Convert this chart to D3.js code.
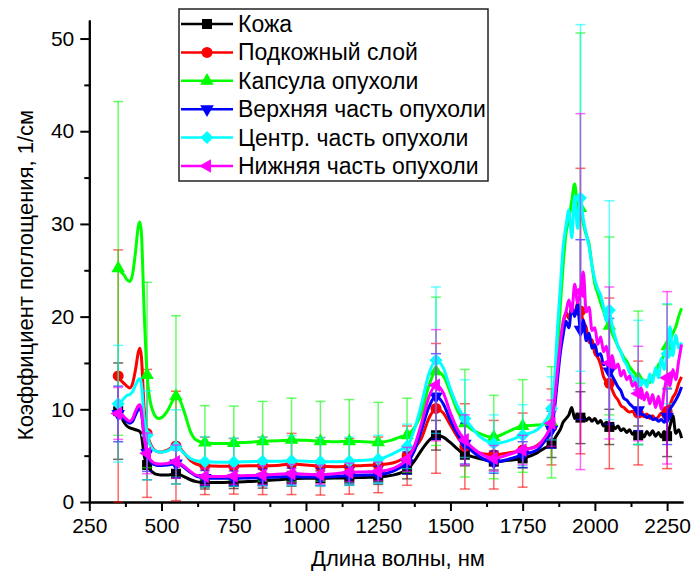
<!DOCTYPE html>
<html><head><meta charset="utf-8">
<script src="https://cdn.jsdelivr.net/npm/d3@7"></script>
<style>body{margin:0;background:#fff}text{font-family:"Liberation Sans",Arial,sans-serif;fill:#000}</style>
</head><body><svg id="c" width="695" height="574"></svg>
<script>
// ---- data ----
const wavelengths = [
 340,350,360,370,380,390,400,410,420,425,
 430,440,450,460,470,480,490,500,
 520,540,550,560,580,600,620,650,
 700,750,800,850,900,950,1000,1050,1100,1150,1200,1250,
 1300,1325,1350,1375,1400,1425,1450,1475,1500,1525,1550,1575,1600,1625,1650,
 1700,1750,1800,1825,1850,
 1860,1870,1880,1890,1900,1910,1920,1930,1940,1950,
 1960,1970,1980,1990,2000,2010,2020,2030,2040,2050,
 2060,2070,2080,2090,2100,2110,2120,2130,2140,2150,
 2160,2170,2180,2190,2200,2210,2220,2230,2240,2250,
 2260,2270,2280,2290,2300];
const markerWavelengths = [350,450,550,650,750,850,950,1050,1150,1250,1350,1450,1550,1650,1750,1850,1950,2050,2150,2250];
const seriesNames = ["Кожа","Подкожный слой","Капсула опухоли","Верхняя часть опухоли","Центр. часть опухоли","Нижняя часть опухоли"];
const xTickLabels = [250,500,750,1000,1250,1500,1750,2000,2250];
const xMinorTicks = [375,625,875,1125,1375,1625,1875,2125];
const yTickLabels = [0,10,20,30,40,50];
const yMinorTicks = [5,15,25,35,45];
const xTitle = "Длина волны, нм";
const yTitle = "Коэффициент поглощения, 1/см";

const kozha = [
 10.0,9.8,9.2,8.6,8.2,8.0,7.9,7.8,7.7,7.6,
 7.3,5.0,4.0,3.5,3.2,3.0,2.95,2.9,
 2.9,3.0,3.05,3.0,2.7,2.4,2.2,2.1,
 2.1,2.15,2.2,2.3,2.4,2.5,2.55,2.55,2.6,2.6,2.65,2.7,
 2.9,3.1,3.5,4.4,5.6,6.6,7.2,7.0,6.4,5.7,5.1,4.9,4.7,4.5,4.35,
 4.5,4.7,5.3,5.8,6.3,
 6.8,7.3,7.8,8.6,9.0,9.4,10.2,9.0,9.5,9.1,
 9.3,8.8,9.1,8.7,9.0,8.5,8.8,8.2,8.6,8.1,
 8.4,7.9,8.2,7.7,7.9,7.5,7.8,7.3,7.6,7.2,
 7.5,7.0,7.6,7.2,7.7,7.1,7.5,7.0,7.6,7.1,
 8.2,9.3,7.4,7.8,6.9];
const podkozhny = [
 13.9,13.6,13.1,12.8,12.5,12.3,12.8,14.3,16.2,16.6,
 15.8,10.0,7.4,6.4,5.8,5.5,5.4,5.4,
 5.6,5.95,6.05,5.9,5.2,4.5,4.1,3.9,
 3.85,3.85,3.9,3.9,3.95,4.1,4.0,3.85,3.8,3.85,3.95,4.0,
 4.2,4.5,5.0,5.8,6.9,9.0,10.1,9.6,8.3,7.0,6.0,5.6,5.3,5.15,5.1,
 5.3,5.6,6.1,6.8,8.1,
 10.5,14.0,17.5,19.0,20.5,19.8,21.0,20.2,21.5,20.6,
 19.5,18.8,17.2,17.5,16.0,15.6,14.8,13.5,13.0,12.8,
 12.1,11.4,11.0,10.4,10.2,9.9,9.7,9.8,9.5,9.6,
 9.4,9.2,9.5,9.0,9.3,8.9,9.2,9.6,9.1,9.8,
 10.5,11.3,11.8,12.8,13.5];
const kapsula = [
 25.3,25.2,24.8,24.5,24.0,23.8,24.6,27.0,29.8,30.2,
 29.2,20.5,13.7,11.0,9.8,9.2,9.0,9.1,
 9.8,11.0,11.4,11.2,9.6,7.6,6.7,6.4,
 6.3,6.35,6.45,6.55,6.6,6.7,6.65,6.55,6.5,6.55,6.5,6.45,
 6.7,7.0,7.2,8.0,9.6,12.5,14.1,13.6,11.8,9.8,8.5,7.8,7.4,7.1,7.0,
 7.6,8.2,8.3,8.4,8.6,
 11.0,16.0,21.0,25.5,29.0,30.5,32.5,34.3,32.0,31.7,
 30.0,28.8,27.8,25.5,23.5,22.5,21.5,20.6,19.6,19.0,
 18.2,17.5,16.8,16.2,15.6,15.2,14.6,14.2,13.8,13.4,
 13.3,13.0,13.1,12.9,13.6,13.9,14.8,15.2,16.0,16.8,
 17.5,18.2,18.9,20.0,20.9];
const verkhnyaya = [
 9.7,9.5,9.3,9.0,8.7,8.5,8.7,9.4,10.0,10.1,
 9.7,7.0,5.3,4.5,4.1,4.0,3.95,3.95,
 4.0,4.1,4.15,4.1,3.7,3.2,2.8,2.6,
 2.55,2.55,2.6,2.65,2.7,2.75,2.7,2.7,2.75,2.85,2.9,2.95,
 3.3,3.7,4.2,5.5,7.8,10.2,11.4,10.6,8.8,7.3,6.3,5.5,4.9,4.5,4.3,
 4.6,5.1,5.6,6.5,7.8,
 10.0,13.0,16.0,18.0,19.5,18.8,21.0,20.0,21.3,18.6,
 19.6,17.4,18.2,16.6,17.0,15.8,16.0,14.8,15.0,14.1,
 13.6,13.0,12.4,12.0,11.2,11.0,10.6,10.3,10.0,9.9,
 9.5,9.4,9.1,9.3,8.9,9.0,8.7,8.9,8.6,9.2,
 10.0,10.5,11.0,11.6,12.4];
const tsentr = [
 10.8,10.6,10.8,11.2,11.5,11.6,11.9,12.6,13.2,13.3,
 12.8,9.0,7.2,6.2,5.7,5.5,5.4,5.4,
 5.5,5.85,5.95,5.8,5.2,4.7,4.45,4.35,
 4.3,4.3,4.35,4.4,4.4,4.45,4.4,4.35,4.35,4.4,4.5,4.6,
 5.2,5.6,6.0,7.8,10.6,13.8,15.3,14.5,12.2,10.3,9.0,8.0,7.1,6.6,6.3,
 6.6,7.2,7.8,8.6,10.1,
 13.0,18.5,23.0,27.5,29.8,31.5,28.5,33.0,29.5,32.8,
 30.5,29.0,27.5,25.5,24.0,23.0,22.3,21.0,19.5,20.7,
 19.0,17.8,16.8,16.2,15.3,14.8,14.0,13.6,13.2,12.9,
 12.6,13.2,12.4,13.8,12.9,14.5,13.4,15.5,14.3,16.0,
 18.9,15.8,18.0,16.6,17.2];
const nizhnyaya = [
 9.4,9.55,9.5,9.2,8.9,8.7,9.0,9.8,10.4,10.5,
 10.0,7.0,5.25,4.6,4.3,4.15,4.1,4.1,
 4.15,4.3,4.35,4.25,3.8,3.3,2.9,2.75,
 2.75,2.8,2.85,2.9,3.0,3.05,3.0,2.95,3.05,3.2,3.25,3.3,
 3.6,4.0,4.6,6.0,8.5,11.3,12.6,11.8,9.6,7.8,6.7,5.9,5.3,4.9,4.7,
 5.1,5.6,6.0,6.9,8.5,
 10.8,14.0,17.0,19.5,20.5,21.8,20.5,23.5,21.5,22.7,
 24.8,20.5,21.0,18.5,18.8,17.0,17.8,16.2,16.8,15.0,
 15.8,14.4,14.9,13.6,14.2,13.2,13.6,12.5,12.9,11.7,
 12.3,11.0,11.8,10.6,11.6,10.2,11.4,10.0,12.0,13.4,
 12.5,14.3,13.2,15.2,17.0];

// error half-widths at markerWavelengths
const errKozha      = [5.2,1.6,1.1,0.7,0.7,0.8,0.8,0.8,0.8,0.8,1.0,1.6,1.2,0.9,1.0,1.5,2.8,1.9,1.0,2.2];
const errPodkozhny  = [13.6,6.9,5.9,3.1,3.0,3.1,3.3,3.1,3.0,3.0,3.2,7.0,4.6,3.7,4.0,4.1,15.4,9.2,5.6,6.2];
const errKapsula    = [18.0,10.0,8.7,4.0,4.0,4.3,4.5,4.3,4.5,4.3,4.0,8.0,5.8,4.5,5.0,6.0,18.9,9.6,7.2,4.5];
const errVerkhnyaya = [3.0,2.0,1.5,0.8,0.8,0.9,0.9,0.9,0.9,0.9,1.2,4.6,2.2,1.2,1.4,2.0,9.7,5.7,2.2,3.0];
const errTsentr     = [6.3,4.8,4.0,2.7,2.6,2.6,2.7,2.6,2.6,2.6,2.4,7.9,4.2,3.1,3.3,3.4,18.7,11.8,6.7,5.4];
const errNizhnyaya  = [2.8,2.2,1.8,0.9,0.9,1.0,1.0,1.0,1.0,1.0,1.3,6.0,2.7,1.4,1.6,2.5,19.2,8.2,5.1,9.3];

// ---- styles ----
const colors = ["#000000","#ff0000","#00ff00","#0000ff","#00ffff","#ff00ff"];
const symbolTypes = [d3.symbolSquare,d3.symbolCircle,d3.symbolTriangle,d3.symbolTriangle,d3.symbolSquare,d3.symbolTriangle];
const symbolSizes = [100,95,80,80,85,80];
const symbolRot = [0,0,0,180,45,-90];

const seriesValues = [kozha,podkozhny,kapsula,verkhnyaya,tsentr,nizhnyaya];
const seriesErrors = [errKozha,errPodkozhny,errKapsula,errVerkhnyaya,errTsentr,errNizhnyaya];

const svg = d3.select("#c");
const x = d3.scaleLinear().domain([250,2305]).range([89.3,683]);
const y = d3.scaleLinear().domain([0,52]).range([502,20]);

// axes
const fontTick = 21;
const fmt = d3.format("d");
const gx = svg.append("g").attr("transform","translate(0,502)");
gx.call(d3.axisBottom(x).tickValues(xMinorTicks).tickSize(5).tickSizeOuter(0).tickFormat(""));
const gx2 = svg.append("g").attr("transform","translate(0,502)");
gx2.call(d3.axisBottom(x).tickValues(xTickLabels).tickSize(9).tickSizeOuter(0).tickPadding(7).tickFormat(fmt));
const gy = svg.append("g").attr("transform","translate(89.3,0)");
gy.call(d3.axisLeft(y).tickValues(yMinorTicks).tickSize(5).tickSizeOuter(0).tickFormat(""));
const gy2 = svg.append("g").attr("transform","translate(89.3,0)");
gy2.call(d3.axisLeft(y).tickValues(yTickLabels).tickSize(9).tickSizeOuter(0).tickPadding(6).tickFormat(fmt));
svg.selectAll(".domain").attr("stroke","#000").attr("stroke-width",2);
svg.selectAll(".tick line").attr("stroke","#000").attr("stroke-width",2);
svg.selectAll(".tick text").attr("font-size",fontTick).attr("font-family","Liberation Sans, Arial, sans-serif").attr("fill","#000");

svg.append("text").attr("x",398).attr("y",566).attr("text-anchor","middle").attr("font-size",22).text(xTitle);
svg.append("text").attr("transform","translate(33,275) rotate(-90)").attr("text-anchor","middle").attr("font-size",22).text(yTitle);

// series
const line = d3.line().x(d=>x(d[0])).y(d=>y(d[1])).curve(d3.curveMonotoneX);
const plot = svg.append("g");
seriesValues.forEach((vals,si)=>{
  const pts = wavelengths.map((w,i)=>[w,vals[i]]);
  const marks = markerWavelengths.map((w,k)=>({w:w,v:vals[wavelengths.indexOf(w)],e:seriesErrors[si][k]}));
  const g = plot.append("g");
  const eb = g.append("g").attr("stroke",colors[si]).attr("stroke-opacity",0.6).attr("stroke-width",1.5);
  marks.forEach(m=>{
    const lo = Math.max(0,m.v-m.e), hi = m.v+m.e;
    eb.append("line").attr("x1",x(m.w)).attr("x2",x(m.w)).attr("y1",y(lo)).attr("y2",y(hi));
    eb.append("line").attr("x1",x(m.w)-5).attr("x2",x(m.w)+5).attr("y1",y(lo)).attr("y2",y(lo));
    eb.append("line").attr("x1",x(m.w)-5).attr("x2",x(m.w)+5).attr("y1",y(hi)).attr("y2",y(hi));
  });
  g.append("path").datum(pts).attr("d",line).attr("fill","none").attr("stroke",colors[si]).attr("stroke-width",3).attr("stroke-linejoin","round");
  const sym = d3.symbol().type(symbolTypes[si]).size(symbolSizes[si])();
  g.selectAll("path.m").data(marks).join("path").attr("class","m")
    .attr("d",sym).attr("fill",colors[si])
    .attr("transform",m=>`translate(${x(m.w)},${y(m.v)}) rotate(${symbolRot[si]})`);
});

// legend
const lg = svg.append("g");
lg.append("rect").attr("x",179).attr("y",9).attr("width",309).attr("height",172).attr("fill","#fff").attr("stroke","#222").attr("stroke-width",1.5);
seriesNames.forEach((n,i)=>{
  const cy = 24 + i*28.4;
  lg.append("line").attr("x1",181).attr("x2",233).attr("y1",cy).attr("y2",cy).attr("stroke",colors[i]).attr("stroke-width",2.5);
  const sym = d3.symbol().type(symbolTypes[i]).size(symbolSizes[i])();
  lg.append("path").attr("d",sym).attr("fill",colors[i]).attr("transform",`translate(207,${cy}) rotate(${symbolRot[i]})`);
  lg.append("text").attr("x",238).attr("y",cy+8).attr("font-size",23).text(n);
});
</script></body></html>
